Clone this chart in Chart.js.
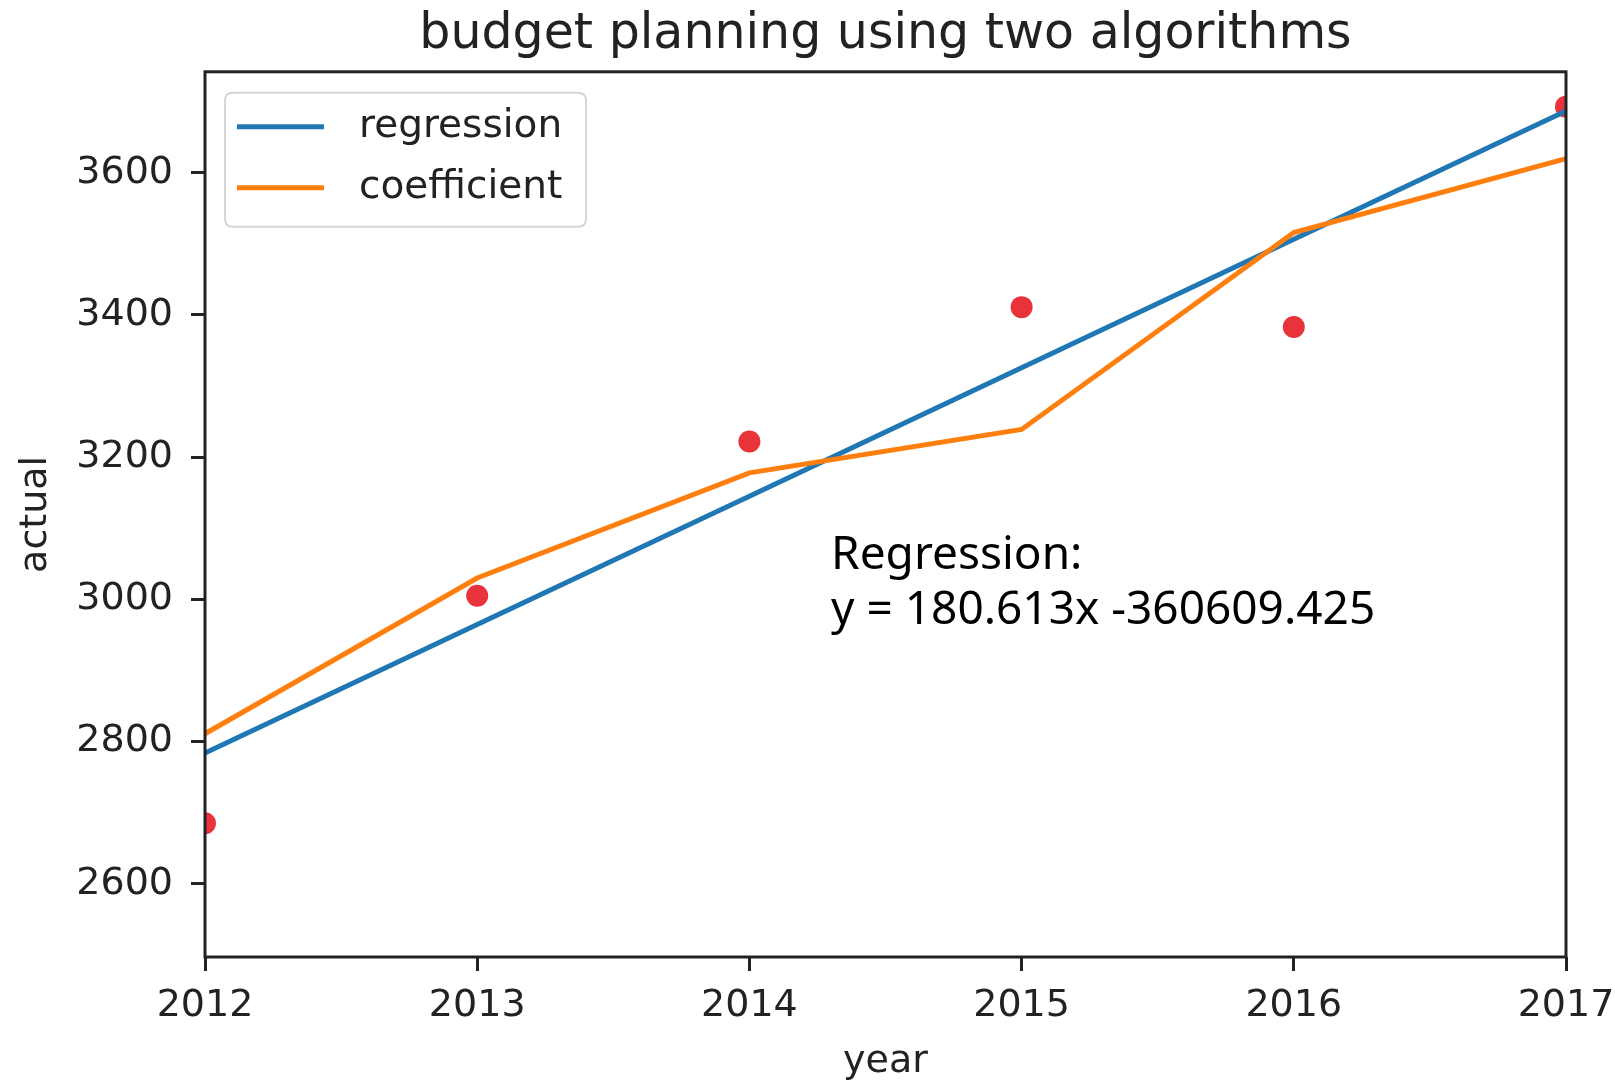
<!DOCTYPE html>
<html>
<head>
<meta charset="utf-8">
<script src="https://cdn.jsdelivr.net/npm/chart.js@4.4.1/dist/chart.umd.min.js"></script>
<style>
  html, body { margin: 0; padding: 0; background: #ffffff; }
  #wrap { width: 1615px; height: 1085px; }
</style>
</head>
<body>
<div id="wrap"><canvas id="c" width="1615" height="1085"></canvas></div>
<script>
// ---- data ----
const years = [2012, 2013, 2014, 2015, 2016, 2017];
const actual = [2685, 3005, 3222, 3411, 3383, 3693];
const regression = [2783.9, 2964.5, 3145.1, 3325.8, 3506.4, 3687.0];
const coefficient = [2811, 3030, 3178, 3239, 3516, 3620];
const yTicks = [2600, 2800, 3000, 3200, 3400, 3600];
const xTicks = [2012, 2013, 2014, 2015, 2016, 2017];
const titleText = 'budget planning using two algorithms';
const xLabel = 'year';
const yLabel = 'actual';
const annotationLines = ['Regression:', 'y = 180.613x -360609.425'];
const annotationAt = { x: 2014.3, y: 2965 };

const toPoints = (vals) => years.map((yr, i) => ({ x: yr, y: vals[i] }));

const frameAndLegend = {
  id: 'frameAndLegend',
  afterDatasetsDraw(chart) {
    const { ctx, chartArea: a } = chart;
    ctx.save();
    // annotation text
    const sx = chart.scales.x, sy = chart.scales.y;
    const ax = sx.getPixelForValue(annotationAt.x);
    const ay = sy.getPixelForValue(annotationAt.y);
    ctx.fillStyle = '#000';
    ctx.font = '46px "Noto Sans"';
    ctx.textAlign = 'left';
    ctx.textBaseline = 'alphabetic';
    const lh = 55;
    for (let i = 0; i < annotationLines.length; i++) {
      const off = (annotationLines.length - 1 - i) * lh;
      ctx.fillText(annotationLines[i], ax, ay - off);
    }
    // frame
    ctx.strokeStyle = '#222';
    ctx.lineWidth = 3;
    ctx.strokeRect(a.left, a.top, a.right - a.left, a.bottom - a.top);
    // legend
    const items = chart.data.datasets.filter(d => d.inLegend);
    const bx = a.left + 20, by = a.top + 21, bw = 361, bh = 134, r = 8;
    ctx.beginPath();
    ctx.moveTo(bx + r, by);
    ctx.lineTo(bx + bw - r, by);
    ctx.quadraticCurveTo(bx + bw, by, bx + bw, by + r);
    ctx.lineTo(bx + bw, by + bh - r);
    ctx.quadraticCurveTo(bx + bw, by + bh, bx + bw - r, by + bh);
    ctx.lineTo(bx + r, by + bh);
    ctx.quadraticCurveTo(bx, by + bh, bx, by + bh - r);
    ctx.lineTo(bx, by + r);
    ctx.quadraticCurveTo(bx, by, bx + r, by);
    ctx.closePath();
    ctx.fillStyle = 'rgba(255,255,255,0.8)';
    ctx.fill();
    ctx.strokeStyle = '#d6d6d6';
    ctx.lineWidth = 2;
    ctx.stroke();
    ctx.font = '39px "DejaVu Sans"';
    ctx.textBaseline = 'middle';
    items.forEach((d, i) => {
      const yy = by + 34 + i * 61;
      ctx.strokeStyle = d.borderColor;
      ctx.lineWidth = 5;
      ctx.beginPath();
      ctx.moveTo(bx + 12, yy);
      ctx.lineTo(bx + 99, yy);
      ctx.stroke();
      ctx.fillStyle = '#222';
      ctx.fillText(d.label, bx + 134, yy);
    });
    ctx.restore();
  }
};

new Chart(document.getElementById('c'), {
  type: 'line',
  data: {
    datasets: [
      { label: 'regression', data: toPoints(regression), borderColor: '#1f77b4', borderWidth: 5,
        pointRadius: 0, tension: 0, fill: false, order: 2, inLegend: true, clip: 0 },
      { label: 'coefficient', data: toPoints(coefficient), borderColor: '#ff7f0e', borderWidth: 5,
        pointRadius: 0, tension: 0, fill: false, order: 1, inLegend: true, clip: 0 },
      { type: 'scatter', label: 'actual', data: toPoints(actual), showLine: false,
        pointRadius: 11, pointHoverRadius: 11, pointBorderWidth: 0,
        pointBackgroundColor: '#e8333a', backgroundColor: '#e8333a', borderColor: '#e8333a',
        order: 3, inLegend: false, clip: 0 }
    ]
  },
  options: {
    responsive: false,
    animation: false,
    devicePixelRatio: 1,
    layout: { padding: { left: 0, right: 49, top: 0, bottom: 0 } },
    plugins: {
      legend: { display: false },
      tooltip: { enabled: false },
      title: {
        display: true, text: titleText, fullSize: false,
        color: '#222', font: { family: 'DejaVu Sans', size: 49, weight: 'normal' },
        padding: { top: 6, bottom: 7 }
      }
    },
    scales: {
      x: {
        type: 'linear', min: 2012, max: 2017,
        afterBuildTicks: (s) => { s.ticks = xTicks.map(v => ({ value: v })); },
        afterFit: (s) => { s.height = 128; s.paddingLeft = 0; s.paddingRight = 0; },
        grid: { drawOnChartArea: false, drawTicks: true, tickLength: 14, lineWidth: 3, color: '#222' },
        border: { display: false },
        ticks: { color: '#222', font: { family: 'DejaVu Sans', size: 38 }, padding: 12,
                 maxRotation: 0, autoSkip: false, callback: (v) => String(v) },
        title: { display: true, text: xLabel, color: '#222',
                 font: { family: 'DejaVu Sans', size: 38 }, padding: { top: 0, bottom: 0 } }
      },
      y: {
        type: 'linear', min: 2497, max: 3742,
        afterBuildTicks: (s) => { s.ticks = yTicks.map(v => ({ value: v })); },
        afterFit: (s) => { s.width = 205; },
        grid: { drawOnChartArea: false, drawTicks: true, tickLength: 14, lineWidth: 3, color: '#222' },
        border: { display: false },
        ticks: { color: '#222', font: { family: 'DejaVu Sans', size: 38 }, padding: 18,
                 autoSkip: false, callback: (v) => String(v) },
        title: { display: true, text: yLabel, color: '#222',
                 font: { family: 'DejaVu Sans', size: 38 }, padding: { top: 13, bottom: 0 } }
      }
    }
  },
  plugins: [frameAndLegend]
});
</script>
</body>
</html>
